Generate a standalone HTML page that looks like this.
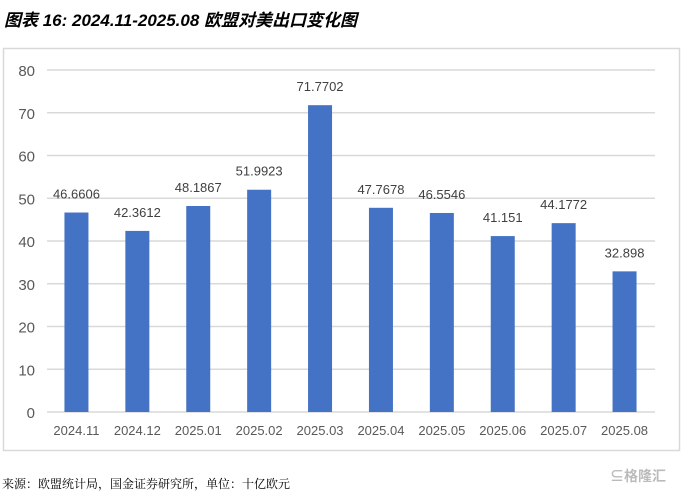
<!DOCTYPE html>
<html><head><meta charset="utf-8"><style>
body{margin:0;background:#fff;width:684px;height:495px;overflow:hidden;font-family:"Liberation Sans","Noto Sans CJK SC",sans-serif}
</style></head><body>
<div style="position:absolute;left:4px;top:6px;font-size:17px;font-weight:bold;font-style:italic;color:#000;font-family:'Liberation Sans','Noto Sans CJK SC',sans-serif">图表 16: 2024.11-2025.08 欧盟对美出口变化图</div>
<svg id="c" width="684" height="495" style="position:absolute;left:0;top:0">
<rect x="3.5" y="48.5" width="676" height="402" fill="none" stroke="#d9d9d9" stroke-width="1.5"/>
</svg>
<div style="position:absolute;left:2px;top:475px;font-size:12px;color:#000;font-family:'Noto Serif CJK SC',serif">来源：欧盟统计局，国金证券研究所，单位：十亿欧元</div>
<div style="position:absolute;left:610px;top:466px;font-size:14px;color:#bbb;font-weight:bold">⊆格隆汇</div>
<script>
const categories=["2024.11","2024.12","2025.01","2025.02","2025.03","2025.04","2025.05","2025.06","2025.07","2025.08"];
const values=[46.6606,42.3612,48.1867,51.9923,71.7702,47.7678,46.5546,41.151,44.1772,32.898];
const labels=["46.6606","42.3612","48.1867","51.9923","71.7702","47.7678","46.5546","41.151","44.1772","32.898"];
const ticks=[0,10,20,30,40,50,60,70,80];
const svg=document.getElementById('c');const NS="http://www.w3.org/2000/svg";
const y0=412,yTop=70,maxV=80;
const y=v=>y0-(v/maxV)*(y0-yTop);
const x0=46,step=60.9;
const xc=i=>x0+step*(i+0.5);
function mk(t,a,txt){const e=document.createElementNS(NS,t);for(const k in a)e.setAttribute(k,a[k]);if(txt!=null)e.textContent=txt;svg.appendChild(e);return e;}
ticks.forEach(t=>{
 const g=mk('line',{x1:47,x2:655,y1:y(t),y2:y(t),stroke:'#d9d9d9','stroke-width':1.5});
 
 
 const l=mk('text',{x:35,y:y(t)+6,'text-anchor':'end','font-size':15,fill:'#595959'},t);
 
 
});
values.forEach((v,i)=>{
 const b=mk('rect',{x:xc(i)-12,y:y(v),width:24,height:y0-y(v),fill:'#4472c4'});
 
 
 const t=mk('text',{x:xc(i),y:y(v)-14,'text-anchor':'middle','font-size':13,fill:'#404040'},labels[i]);
 
 
 const c=mk('text',{x:xc(i),y:435,'text-anchor':'middle','font-size':13,fill:'#595959'},categories[i]);
 
 
});
</script>
</body></html>
